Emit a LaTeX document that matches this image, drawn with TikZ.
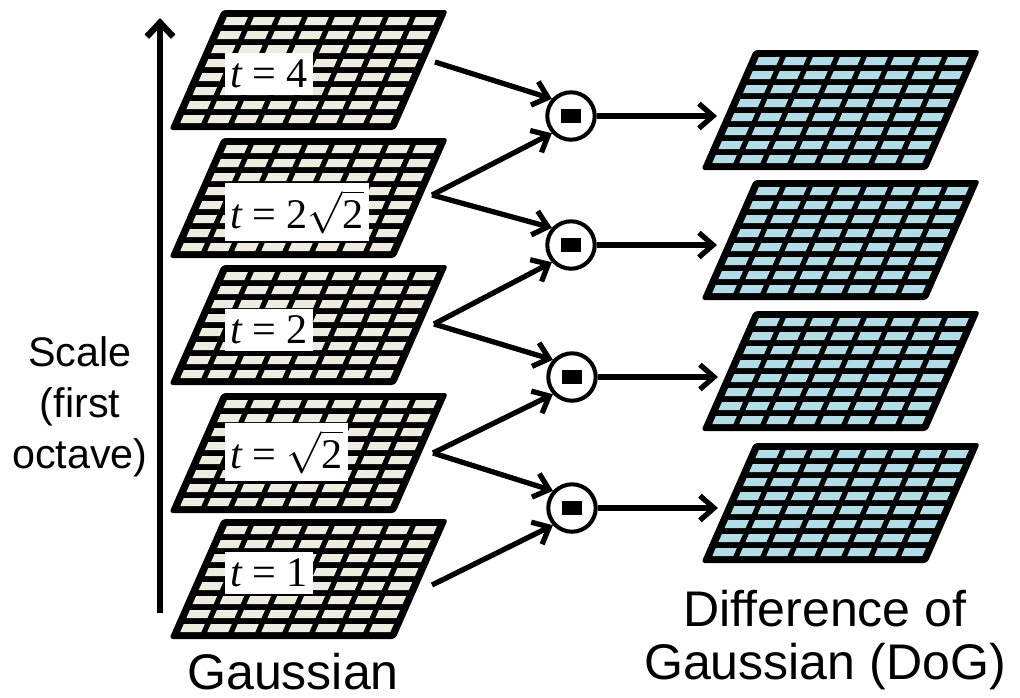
\documentclass[tikz,border=0pt]{standalone}
\usepackage{fix-cm}
\usepackage{fontspec}
\setsansfont{Liberation Sans}
\newfontfamily\tfont{Liberation Serif}
\usetikzlibrary{arrows.meta}

\definecolor{gausscell}{RGB}{238,235,224}
\definecolor{dogcell}{RGB}{178,220,230}

% one slanted 8x8 layer, top left corner at (#1,#2)
\newcommand{\gridlayer}[3]{%
  \begin{scope}[shift={(#1,#2)}, xslant=0.44]
    \fill[rounded corners=2pt] (0,0) -- (226,0) -- (226,120) -- (0,120) -- cycle;
    \foreach \i in {0,...,7}
      \foreach \j in {0,...,7}
        \fill[#3] ({8+\i*27},{7+\j*14}) rectangle ++(21,8);
  \end{scope}}
\newcommand{\teq}{{\itshape t}\hspace{0.24em}=\hspace{0.24em}}
\newcommand{\rtwo}{$\sqrt{\hbox{\tfont 2}}$}

\begin{document}
\begin{tikzpicture}[x=0.02cm, y=-0.02cm,
    arr/.style={line width=3pt, -{Straight Barb[length=8pt,width=14pt]}},
    minus/.style={circle, draw, line width=2.3pt, minimum size=27pt, inner sep=0pt},
    tlabel/.style={fill=white, inner xsep=3pt, inner ysep=4pt, anchor=west,
      font=\tfont\fontsize{24}{27}\selectfont},
    bigtext/.style={font=\sffamily\fontsize{28.5}{30}\selectfont, align=center, inner sep=0pt}]
    \useasboundingbox (0,0) rectangle (1020,697);

    % scale axis
    \coordinate (s0) at (160,613);
    \coordinate (s1) at (160,18);
    \draw[line width=3.6pt, -{Straight Barb[length=8pt,width=15pt]}] (s0) -- (s1);
    \node[bigtext, font=\sffamily\fontsize{23.5}{29}\selectfont] (scale) at (80,407) {Scale\\(first\\octave)};

    % gaussian layers
    \gridlayer{222}{10}{gausscell}
    \gridlayer{222}{138}{gausscell}
    \gridlayer{222}{265}{gausscell}
    \gridlayer{222}{393}{gausscell}
    \gridlayer{222}{519}{gausscell}
    \node[tlabel] (t1) at (225,74) {\teq 4};
    \node[tlabel] (t2) at (225,212) {\teq 2\rtwo};
    \node[tlabel] (t3) at (225,330) {\teq 2};
    \node[tlabel] (t4) at (225,452) {\teq \rtwo};
    \node[tlabel] (t5) at (225,573) {\teq 1};

    % DoG layers
    \gridlayer{754}{50}{dogcell}
    \gridlayer{754}{180}{dogcell}
    \gridlayer{754}{311}{dogcell}
    \gridlayer{754}{443}{dogcell}

    % subtraction
    \node[minus] (m1) at (571,116) {\rule{11pt}{7.5pt}};
    \node[minus] (m2) at (571,245) {\rule{11pt}{7.5pt}};
    \node[minus] (m3) at (572,377) {\rule{11pt}{7.5pt}};
    \node[minus] (m4) at (572,508) {\rule{11pt}{7.5pt}};

    \coordinate (g1) at (435,62);
    \coordinate (g2) at (432,195);
    \coordinate (g3) at (434,324);
    \coordinate (g4) at (433,453);
    \coordinate (g5) at (432,585);
    \coordinate (d1) at (717,116);
    \coordinate (d2) at (717,245);
    \coordinate (d3) at (718,377);
    \coordinate (d4) at (718,508);

    \draw[arr] (g1) -- (m1.138);
    \draw[arr] (g2) -- (m1.222);
    \draw[arr] (g2) -- (m2.138);
    \draw[arr] (g3) -- (m2.222);
    \draw[arr] (g3) -- (m3.138);
    \draw[arr] (g4) -- (m3.222);
    \draw[arr] (g4) -- (m4.138);
    \draw[arr] (g5) -- (m4.222);
    \draw[arr] (m1) -- (d1);
    \draw[arr] (m2) -- (d2);
    \draw[arr] (m3) -- (d3);
    \draw[arr] (m4) -- (d4);

    \node[bigtext, anchor=base] (gauss) at (293,689) {Gaussian};
    \node[bigtext] (dog) at (825,640) {Difference of\\Gaussian (DoG)};
\end{tikzpicture}
\end{document}
